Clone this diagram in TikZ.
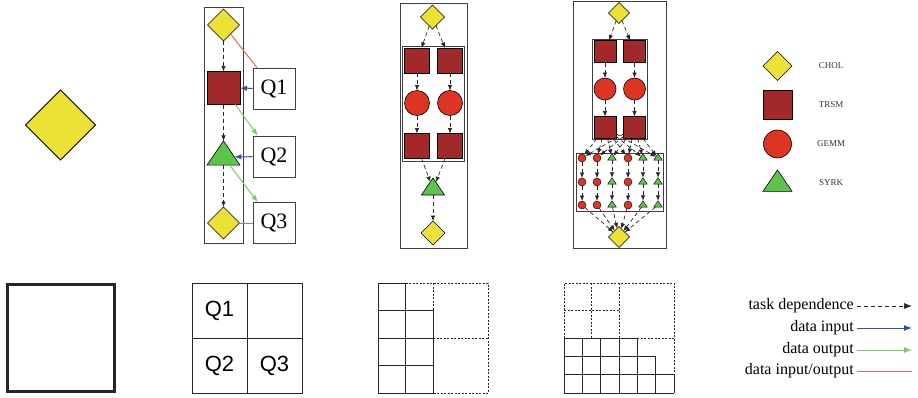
\documentclass[tikz,border=0pt]{standalone}
\usepackage{fontspec}
\setmainfont{Liberation Serif}
\setsansfont{Liberation Sans}
\usetikzlibrary{positioning, calc, arrows.meta, shapes.geometric}
\definecolor{cholcolor}{HTML}{ECE236}
\definecolor{trsmcolor}{HTML}{A2292A}
\definecolor{gemmcolor}{HTML}{DE3424}
\definecolor{syrkcolor}{HTML}{5CC44A}
\definecolor{incolor}{HTML}{3A4AAE}
\definecolor{outcolor}{HTML}{74D264}
\definecolor{iocolor}{HTML}{F0655A}

\begin{document}
\begin{tikzpicture}[
    x=1pt, y=-1pt,
    task/.style={draw=black, line width=0.6pt, inner sep=0pt, outer sep=0pt},
    chol/.style={task, diamond, fill=cholcolor},
    trsm/.style={task, rectangle, fill=trsmcolor},
    gemm/.style={task, circle, fill=gemmcolor},
    syrk/.style={task, regular polygon, regular polygon sides=3, fill=syrkcolor, yscale=0.85},
    minigemm/.style={gemm, minimum size=8pt, line width=0.4pt},
    minisyrk/.style={syrk, minimum size=10pt, line width=0.4pt},
    qbox/.style={draw=black!75, line width=0.7pt, minimum width=42pt, minimum height=41pt, inner sep=0pt, font=\fontsize{22}{26}\selectfont},
    qlbl/.style={font=\sffamily\fontsize{22}{26}\selectfont},
    frame/.style={draw=black!75, line width=0.8pt},
    dep/.style={-{Latex[length=5.5pt, width=4.5pt]}, draw=black!85, line width=0.7pt, dash pattern=on 4pt off 3pt},
    datain/.style={-{Latex[length=7pt, width=5.5pt]}, draw=incolor, line width=1pt},
    dataout/.style={-{Latex[length=7pt, width=5.5pt]}, draw=outcolor, line width=1pt},
    inout/.style={draw=iocolor, line width=1pt},
    tile/.style={draw=black!85, line width=0.8pt},
    subtile/.style={draw=black!85, line width=0.7pt, dash pattern=on 2pt off 1.5pt},
    legendlbl/.style={font=\fontsize{9}{10}\selectfont, text=black!80},
    keylbl/.style={anchor=east, inner sep=3pt, font=\fontsize{16}{18}\selectfont}
]
    \useasboundingbox (0,0) rectangle (918,397);

    % =========================================================================
    % SINGLE TASK
    % =========================================================================
    \node (big_chol) [chol, minimum size=70pt, line width=1pt] at (60.5,125) {};

    % =========================================================================
    % ONE LEVEL: CHOL, TRSM, SYRK, CHOL
    % =========================================================================
    \node (c2_chol1) [chol, minimum size=32pt] at (223.5,25) {};
    \node (c2_trsm) [trsm, minimum size=33pt] at (223.5,88) {};
    \node (c2_syrk) [syrk, minimum size=38pt] at (223.5,157) {};
    \node (c2_chol2) [chol, minimum size=32pt] at (223.5,223) {};
    \draw [frame] (204,7) rectangle (243,243);

    % Data blocks
    \node (q1) [qbox] at (274,88.5) {Q1};
    \node (q2) [qbox] at (274,156.5) {Q2};
    \node (q3) [qbox] at (274,223) {Q3};

    % Dependences & data
    \draw [dep] (c2_chol1) -- (c2_trsm);
    \draw [dep] (c2_trsm) -- (c2_syrk);
    \draw [dep] (c2_syrk) -- (c2_chol2);
    \draw [inout] (c2_chol1) -- ($(q1.north west)!0.1!(q1.north east)$);
    \draw [datain] (q1) -- (c2_trsm);
    \draw [dataout] (c2_trsm) -- ($(q2.north west)!0.12!(q2.north east)$);
    \draw [datain] (q2) -- (c2_syrk);
    \draw [dataout] (c2_syrk) -- ($(q3.north west)!0.12!(q3.north east)$);
    \draw [inout] (q3) -- (c2_chol2);

    % =========================================================================
    % TWO LEVELS: NESTED TRSM
    % =========================================================================
    \node (c3_chol1) [chol, minimum size=24pt] at (432.5,17) {};
    \node (c3_trsm1) [trsm, minimum size=25pt] at (417,60.5) {};
    \node (c3_trsm2) [trsm, minimum size=25pt] at (450,60.5) {};
    \node (c3_gemm1) [gemm, minimum size=25pt] at (417,103) {};
    \node (c3_gemm2) [gemm, minimum size=25pt] at (450,103) {};
    \node (c3_trsm3) [trsm, minimum size=25pt] at (417,146) {};
    \node (c3_trsm4) [trsm, minimum size=25pt] at (450,146) {};
    \node (c3_syrk) [syrk, minimum size=26.6pt] at (433,189.3) {};
    \node (c3_chol2) [chol, minimum size=24pt] at (433,233) {};
    \draw [frame] (400,3) rectangle (467,248);
    \draw [frame] (402,46) rectangle (464,161);

    \draw [dep] (c3_chol1) -- (c3_trsm1);
    \draw [dep] (c3_chol1) -- (c3_trsm2);
    \draw [dep] (c3_trsm1) -- (c3_gemm1);
    \draw [dep] (c3_trsm2) -- (c3_gemm2);
    \draw [dep] (c3_gemm1) -- (c3_trsm3);
    \draw [dep] (c3_gemm2) -- (c3_trsm4);
    \draw [dep] (c3_trsm3) -- (c3_syrk);
    \draw [dep] (c3_trsm4) -- (c3_syrk);
    \draw [dep] (c3_syrk) -- (c3_chol2);

    % =========================================================================
    % TWO LEVELS: NESTED TRSM AND SYRK
    % =========================================================================
    \node (c4_chol1) [chol, minimum size=21pt] at (619,13) {};
    \node (c4_trsm1) [trsm, minimum size=22pt] at (605,51.5) {};
    \node (c4_trsm2) [trsm, minimum size=22pt] at (634.5,51.5) {};
    \node (c4_gemm1) [gemm, minimum size=22pt] at (605,89) {};
    \node (c4_gemm2) [gemm, minimum size=22pt] at (634.5,89) {};
    \node (c4_trsm3) [trsm, minimum size=22pt] at (605,127.5) {};
    \node (c4_trsm4) [trsm, minimum size=22pt] at (634.5,127.5) {};
    \node (c4_chol2) [chol, minimum size=21pt] at (619,237) {};
    \draw [frame] (573,1.5) rectangle (666,248);
    \draw [frame] (592,39) rectangle (647,139);
    \draw [frame] (576,153) rectangle (663,211);

    % Trailing update tasks
    \foreach \x/\kind [count=\i] in {582/gemm, 597/gemm, 612/syrk, 628/gemm, 643/syrk, 658/syrk}
        \foreach \y [count=\j] in {158, 182, 205}
            \node (c4_t\i\j) [mini\kind] at (\x,\y) {};

    \draw [dep] (c4_chol1) -- (c4_trsm1);
    \draw [dep] (c4_chol1) -- (c4_trsm2);
    \draw [dep] (c4_trsm1) -- (c4_gemm1);
    \draw [dep] (c4_trsm2) -- (c4_gemm2);
    \draw [dep] (c4_gemm1) -- (c4_trsm3);
    \draw [dep] (c4_gemm2) -- (c4_trsm4);
    \foreach \i in {1,...,6} {
        \draw [dep] (c4_trsm3) -- (c4_t\i1);
        \draw [dep] (c4_trsm4) -- (c4_t\i1);
        \draw [dep] (c4_t\i1) -- (c4_t\i2);
        \draw [dep] (c4_t\i2) -- (c4_t\i3);
        \draw [dep] (c4_t\i3) -- (c4_chol2);
    }

    % =========================================================================
    % TASK LEGEND
    % =========================================================================
    \node (key_chol) [chol, minimum size=29pt] at (777.5,66) {};
    \node (key_trsm) [trsm, minimum size=29pt] at (777.5,105) {};
    \node (key_gemm) [gemm, minimum size=28pt] at (777.5,144) {};
    \node (key_syrk) [syrk, minimum size=33.5pt] at (777.5,184.2) {};
    \node (key_chol_lbl) [legendlbl] at (831,66) {CHOL};
    \node (key_trsm_lbl) [legendlbl] at (831,105) {TRSM};
    \node (key_gemm_lbl) [legendlbl] at (831,144) {GEMM};
    \node (key_syrk_lbl) [legendlbl] at (831,183) {SYRK};

    % =========================================================================
    % MATRIX BLOCKS
    % =========================================================================
    \draw [tile, line width=3pt] (7.5,284.5) rectangle (114,391.5);

    \draw [tile] (192,283) rectangle (302,393) (247,283) -- (247,393) (192,338) -- (302,338);
    \node (g2_q1) [qlbl] at (219.5,311) {Q1};
    \node (g2_q2) [qlbl] at (219.5,366) {Q2};
    \node (g2_q3) [qlbl] at (274.5,366) {Q3};

    \begin{scope}[shift={(378,283)}]
        \draw [subtile] (27.5,0) -- (110,0) -- (110,110) -- (55,110);
        \draw [subtile] (55,0) -- (55,27.5) (55,55) -- (110,55);
        \draw [tile] (0,0) rectangle (27.5,110) (27.5,27.5) rectangle (55,110);
        \draw [tile] (0,27.5) -- (27.5,27.5) (0,55) -- (55,55) (0,82.5) -- (55,82.5);
    \end{scope}

    \begin{scope}[shift={(564,283)}]
        \draw [subtile] (0,55) -- (0,0) -- (110,0) -- (110,91.67);
        \draw [subtile] (27.5,0) -- (27.5,55) (55,0) -- (55,55) (0,27.5) -- (55,27.5) (73.33,55) -- (110,55);
        \draw [tile] (0,55) -- (73.33,55) (0,73.33) -- (91.67,73.33) (0,91.67) -- (110,91.67) (0,110) -- (110,110);
        \foreach \k in {0,...,4}
            \draw [tile] (\k*18.333,55) -- (\k*18.333,110);
        \draw [tile] (91.67,73.33) -- (91.67,110) (110,91.67) -- (110,110);
    \end{scope}

    % =========================================================================
    % EDGE LEGEND
    % =========================================================================
    \node (lbl_dep) [keylbl] at (857,306) {task dependence};
    \node (lbl_in) [keylbl] at (857,328) {data input};
    \node (lbl_out) [keylbl] at (857,350) {data output};
    \node (lbl_io) [keylbl] at (857,371) {data input/output};
    \coordinate (dep_end) at (912,306);
    \coordinate (in_end) at (912,328);
    \coordinate (out_end) at (912,350);
    \coordinate (io_end) at (912,371);
    \draw [dep, -{Latex[length=8pt, width=6pt]}] (lbl_dep.east) -- (dep_end);
    \draw [datain, -{Latex[length=8pt, width=6pt]}] (lbl_in.east) -- (in_end);
    \draw [dataout, -{Latex[length=8pt, width=6pt]}] (lbl_out.east) -- (out_end);
    \draw [inout] (lbl_io.east) -- (io_end);

\end{tikzpicture}
\end{document}
